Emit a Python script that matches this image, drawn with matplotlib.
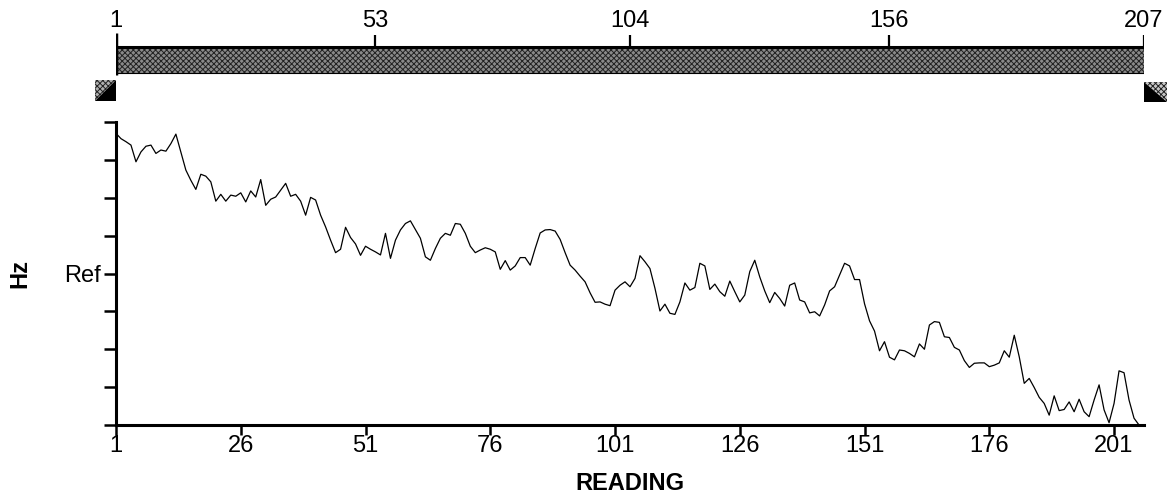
import matplotlib
matplotlib.use('Agg')
import matplotlib.pyplot as plt
from matplotlib.patches import Rectangle, Polygon

plt.rcParams['font.family'] = ['Liberation Sans', 'DejaVu Sans']
plt.rcParams['hatch.linewidth'] = 0.7

# Readings 1..206, frequency in tick units (Ref = 4)
readings = list(range(1, 207))
hz = [7.70, 7.56, 7.48, 7.39, 6.95, 7.21, 7.36, 7.39, 7.17, 7.26,
      7.23, 7.43, 7.68, 7.21, 6.73, 6.46, 6.22, 6.62, 6.57, 6.42,
      5.91, 6.09, 5.91, 6.07, 6.04, 6.13, 5.89, 6.18, 6.02, 6.48,
      5.80, 5.96, 6.02, 6.20, 6.38, 6.04, 6.09, 5.91, 5.54, 6.01,
      5.94, 5.54, 5.23, 4.88, 4.55, 4.64, 5.22, 4.95, 4.78, 4.48,
      4.72, 4.64, 4.57, 4.49, 5.06, 4.40, 4.88, 5.15, 5.32, 5.39,
      5.16, 4.93, 4.44, 4.35, 4.66, 4.93, 5.06, 5.01, 5.32, 5.30,
      5.06, 4.72, 4.55, 4.62, 4.68, 4.64, 4.57, 4.11, 4.34, 4.09,
      4.20, 4.42, 4.42, 4.22, 4.66, 5.07, 5.15, 5.16, 5.12, 4.90,
      4.55, 4.22, 4.09, 3.93, 3.78, 3.49, 3.24, 3.25, 3.19, 3.15,
      3.56, 3.69, 3.78, 3.65, 3.87, 4.47, 4.31, 4.13, 3.61, 3.01,
      3.19, 2.95, 2.92, 3.25, 3.75, 3.56, 3.63, 4.27, 4.20, 3.58,
      3.72, 3.52, 3.40, 3.80, 3.52, 3.25, 3.43, 4.05, 4.35, 3.91,
      3.54, 3.23, 3.50, 3.34, 3.14, 3.69, 3.75, 3.30, 3.25, 2.96,
      2.99, 2.88, 3.17, 3.54, 3.65, 3.96, 4.27, 4.20, 3.84, 3.84,
      3.20, 2.75, 2.48, 1.96, 2.20, 1.79, 1.72, 1.98, 1.96, 1.89,
      1.80, 2.14, 2.00, 2.64, 2.73, 2.71, 2.33, 2.31, 2.05, 1.98,
      1.70, 1.52, 1.63, 1.64, 1.64, 1.54, 1.58, 1.64, 1.96, 1.79,
      2.37, 1.80, 1.10, 1.23, 0.99, 0.73, 0.57, 0.26, 0.77, 0.38,
      0.41, 0.61, 0.35, 0.68, 0.35, 0.22, 0.66, 1.06, 0.40, 0.06,
      0.57, 1.43, 1.38, 0.66, 0.18, 0.00]

bottom_ticks = [1, 26, 51, 76, 101, 126, 151, 176, 201]
bar_ticks = [1, 53, 104, 156, 207]
y_levels = list(range(9))
ref_level = 4
first_reading, last_reading = 1, 207

W, H = 1172, 503
fig = plt.figure(figsize=(W / 100, H / 100), dpi=100)
fs = 17

# pixel x -> reading (for the little end markers of the range bar)
def px_to_reading(px):
    return first_reading + (px - 116) * (last_reading - first_reading) / (1144 - 116)

# Main trace
ax = fig.add_axes([116 / W, 1 - 425 / H, (1144 - 116) / W, (425 - 122) / H])
ax.plot(readings, hz, color='black', lw=0.9)
ax.set_xlim(first_reading, last_reading)
ax.set_ylim(0, 8)
for s in ['top', 'right']:
    ax.spines[s].set_visible(False)
for s in ['left', 'bottom']:
    ax.spines[s].set_linewidth(2.2)
ax.set_xticks(bottom_ticks)
ax.set_xticklabels([str(t) for t in bottom_ticks], fontsize=fs)
ax.set_yticks(y_levels)
ax.set_yticklabels(['Ref' if v == ref_level else '' for v in y_levels], fontsize=fs)
ax.tick_params(axis='x', direction='out', length=7, width=1.8, pad=0)
ax.tick_params(axis='y', direction='out', length=9, width=1.8, pad=2)

fig.text(630 / W, 1 - 484 / H, 'READING', ha='center', va='center',
         fontsize=fs, fontweight='bold')
fig.text(20 / W, 1 - 273 / H, 'Hz', ha='center', va='center', rotation=90,
         fontsize=fs, fontweight='bold')

# Range bar on top (y in pixel rows)
axb = fig.add_axes([116 / W, 1 - 110 / H, (1144 - 116) / W, 110 / H])
axb.set_xlim(first_reading, last_reading)
axb.set_ylim(110, 0)
axb.axis('off')

axb.add_patch(Rectangle((first_reading, 47), last_reading - first_reading, 26,
                        facecolor='#8a8a8a', edgecolor='#222222', hatch='xxxxxx',
                        lw=0))
axb.plot([first_reading, last_reading], [47, 47], color='black', lw=2.2,
         solid_capstyle='butt')
axb.plot([first_reading, last_reading], [73, 73], color='black', lw=0.8)
axb.vlines(first_reading, 33, 75, color='black', lw=2.5)
axb.vlines(bar_ticks[1:], 35, 47, color='black', lw=1.6)
axb.vlines(last_reading + 0.3, 47, 83, color='#555555', lw=0.8, linestyles=':')
for t in bar_ticks:
    axb.text(t, 32, str(t), ha='center', va='bottom', fontsize=fs)

# End markers
lx0, lx1 = px_to_reading(95), px_to_reading(116)
axb.add_patch(Polygon([(lx0, 80), (lx1, 80), (lx0, 101)], closed=True,
                      facecolor='#b0b0b0', edgecolor='#222222', hatch='xxxxxx',
                      lw=0, clip_on=False))
axb.add_patch(Polygon([(lx1, 80), (lx1, 101), (lx0, 101)], closed=True,
                      facecolor='black', lw=0, clip_on=False))
rx0, rx1 = px_to_reading(1144), px_to_reading(1167)
axb.add_patch(Polygon([(rx0, 82), (rx1, 82), (rx1, 102)], closed=True,
                      facecolor='#c8c8c8', edgecolor='#222222', hatch='xxxxxx',
                      lw=0, clip_on=False))
axb.add_patch(Polygon([(rx0, 82), (rx0, 102), (rx1, 102)], closed=True,
                      facecolor='black', lw=0, clip_on=False))

fig.savefig('out.png', dpi=100)
